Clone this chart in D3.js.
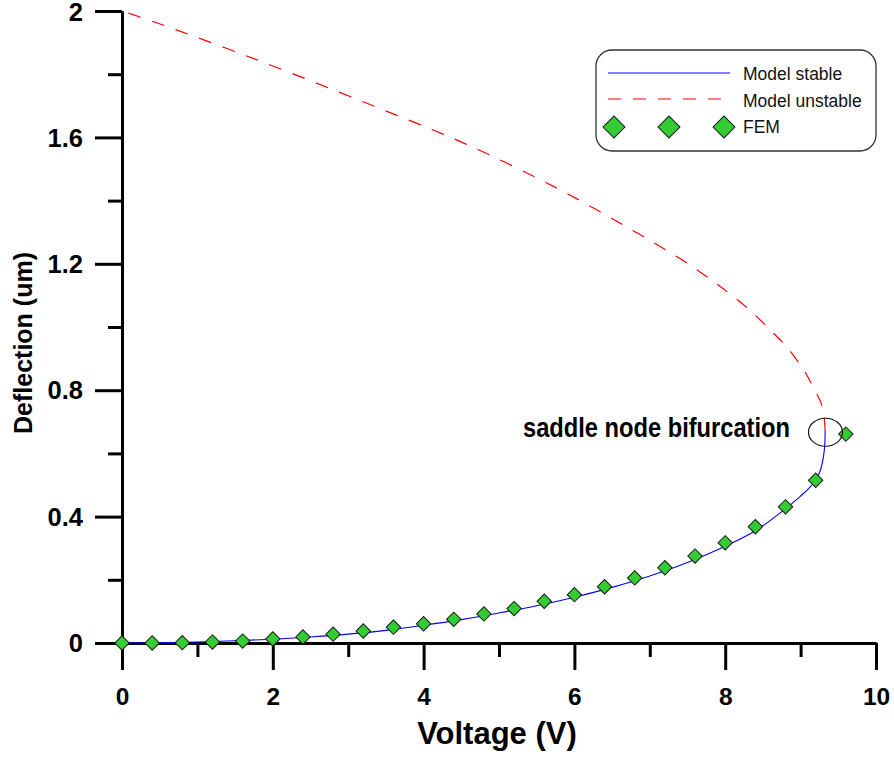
<!DOCTYPE html>
<html>
<head>
<meta charset="utf-8">
<script src="https://cdn.jsdelivr.net/npm/d3@7"></script>
<style>
  body { margin: 0; background: #fff; }
  svg { font-family: Arial, "Liberation Sans", sans-serif; }
</style>
</head>
<body>
<div id="chart"></div>
<script>
// FEM points (voltage, deflection)
var femV = [0, 0.4, 0.8, 1.2, 1.6, 2.0, 2.4, 2.8, 3.2, 3.6, 4.0, 4.4, 4.8, 5.2, 5.6, 6.0, 6.4, 6.8, 7.2, 7.6, 8.0, 8.4, 8.8, 9.2, 9.6];
var femD = [0, 0, 0.001, 0.003, 0.006, 0.013, 0.019, 0.028, 0.038, 0.05, 0.061, 0.075, 0.092, 0.109, 0.132, 0.153, 0.178, 0.206, 0.238, 0.275, 0.317, 0.368, 0.431, 0.515, 0.661];

// model, stable branch
var stableV = [0, 0.5, 1, 1.5, 2, 2.5, 3, 3.5, 4, 4.5, 5, 5.5, 6, 6.5, 7, 7.5, 8, 8.4, 8.8, 9.0, 9.1, 9.2, 9.26, 9.3, 9.32, 9.325];
var stableD = [0, 0.001, 0.003, 0.007, 0.012, 0.019, 0.028, 0.04, 0.056, 0.074, 0.095, 0.118, 0.145, 0.176, 0.212, 0.255, 0.306, 0.355, 0.425, 0.465, 0.487, 0.515, 0.545, 0.585, 0.625, 0.672];

// model, unstable branch
var unstableV = [9.325, 9.31, 9.27, 9.2, 9.1, 9.04, 8.83, 8.6, 8.35, 8.11, 7.85, 7.43, 6.69, 5.81, 4.57, 3.33, 1.74, 0.42, 0];
var unstableD = [0.672, 0.72, 0.76, 0.795, 0.84, 0.864, 0.933, 0.99, 1.048, 1.096, 1.143, 1.212, 1.317, 1.434, 1.578, 1.70, 1.85, 1.966, 2];

var xMajor = [0, 2, 4, 6, 8, 10];
var xMinor = [1, 3, 5, 7, 9];
var yMajor = [0, 0.4, 0.8, 1.2, 1.6, 2];
var yMinor = [0.2, 0.6, 1.0, 1.4, 1.8];

var legendLabels = ["Model stable", "Model unstable", "FEM"];
var fold = [9.33, 0.667];

var width = 894, height = 759;
var svg = d3.select("#chart").append("svg")
	.attr("width", width)
	.attr("height", height);

var x = d3.scaleLinear().domain([0, 10]).range([122, 876]);
var y = d3.scaleLinear().domain([0, 2]).range([643, 11]);

// axes
function styleAxis(size) {
	return function (g) {
		g.select(".domain").attr("stroke", "#000").attr("stroke-width", 3);
		g.selectAll(".tick line").attr("stroke", "#000").attr("stroke-width", 3);
		g.selectAll(".tick text")
			.attr("fill", "#000")
			.style("font-size", size + "px")
			.style("font-weight", "bold");
	};
}

svg.append("g")
	.attr("transform", "translate(0,643)")
	.call(d3.axisBottom(x).tickValues(xMinor).tickSize(14).tickSizeOuter(0).tickFormat(""))
	.call(styleAxis(24));
svg.append("g")
	.attr("transform", "translate(0,643)")
	.call(d3.axisBottom(x).tickValues(xMajor).tickSize(27).tickSizeOuter(0).tickPadding(18).tickFormat(d3.format("d")))
	.call(styleAxis(24.5));

svg.append("g")
	.attr("transform", "translate(122,0)")
	.call(d3.axisLeft(y).tickValues(yMinor).tickSize(14).tickSizeOuter(0).tickFormat(""))
	.call(styleAxis(24));
svg.append("g")
	.attr("transform", "translate(122,0)")
	.call(d3.axisLeft(y).tickValues(yMajor).tickSize(27).tickSizeOuter(0).tickPadding(12).tickFormat(function (d) { return d === 0 || d === 2 ? d : d.toFixed(1); }))
	.call(styleAxis(25.5))
	.selectAll(".tick text")
	.attr("dy", function (d) { return d === 2 ? "0.38em" : "0.34em"; });

// axis titles
svg.append("text")
	.attr("x", 497)
	.attr("y", 744)
	.attr("text-anchor", "middle")
	.style("font-size", "31px")
	.style("font-weight", "bold")
	.text("Voltage (V)");

svg.append("text")
	.attr("transform", "translate(32,343) rotate(-90)")
	.attr("text-anchor", "middle")
	.style("font-size", "25px")
	.style("font-weight", "bold")
	.text("Deflection (um)");

// curves
var line = d3.line()
	.x(function (d) { return x(d[0]); })
	.y(function (d) { return y(d[1]); })
	.curve(d3.curveCatmullRom.alpha(0.5));

svg.append("path")
	.datum(d3.zip(unstableV, unstableD))
	.attr("d", line)
	.attr("fill", "none")
	.attr("stroke", "#ff0000")
	.attr("stroke-width", 1.2)
	.attr("stroke-dasharray", "13,12");

svg.append("path")
	.datum(d3.zip(stableV, stableD))
	.attr("d", line)
	.attr("fill", "none")
	.attr("stroke", "#0000ff")
	.attr("stroke-width", 1.1);

// FEM markers
var diamond = d3.symbol().type(d3.symbolSquare).size(104);
svg.append("g").selectAll("path")
	.data(d3.zip(femV, femD))
	.enter()
	.append("path")
	.attr("d", diamond)
	.attr("transform", function (d) { return "translate(" + x(d[0]) + "," + y(d[1]) + ") rotate(45)"; })
	.attr("fill", "#33cc33")
	.attr("stroke", "#1a1a1a")
	.attr("stroke-width", 1);

// bifurcation annotation
svg.append("ellipse")
	.attr("cx", x(fold[0]))
	.attr("cy", y(fold[1]))
	.attr("rx", 17)
	.attr("ry", 14)
	.attr("fill", "none")
	.attr("stroke", "#111")
	.attr("stroke-width", 1.2);

svg.append("text")
	.attr("x", 523)
	.attr("y", 437)
	.attr("textLength", 267)
	.attr("lengthAdjust", "spacingAndGlyphs")
	.style("font-size", "28px")
	.style("font-weight", "bold")
	.text("saddle node bifurcation");

// legend
var legend = svg.append("g");
legend.append("rect")
	.attr("x", 596).attr("y", 50)
	.attr("width", 280).attr("height", 101)
	.attr("rx", 16).attr("ry", 16)
	.attr("fill", "#fff")
	.attr("stroke", "#333")
	.attr("stroke-width", 1.3);

legend.append("line")
	.attr("x1", 608).attr("x2", 730).attr("y1", 73).attr("y2", 73)
	.attr("stroke", "#0000ff").attr("stroke-width", 1.1);
legend.append("line")
	.attr("x1", 608).attr("x2", 725).attr("y1", 99).attr("y2", 99)
	.attr("stroke", "#ff0000").attr("stroke-width", 1.2)
	.attr("stroke-dasharray", "13,12");

var bigDiamond = d3.symbol().type(d3.symbolSquare).size(240);
legend.selectAll(".legDiamond")
	.data([614, 669, 724])
	.enter()
	.append("path")
	.attr("class", "legDiamond")
	.attr("d", bigDiamond)
	.attr("transform", function (d) { return "translate(" + d + ",127) rotate(45)"; })
	.attr("fill", "#33cc33")
	.attr("stroke", "#1a1a1a")
	.attr("stroke-width", 1);

legend.selectAll(".legText")
	.data(legendLabels)
	.enter()
	.append("text")
	.attr("class", "legText")
	.attr("x", 743)
	.attr("y", function (d, i) { return 80 + i * 26.5; })
	.style("font-size", "17.5px")
	.attr("fill", "#111")
	.text(function (d) { return d; });
</script>
</body>
</html>
